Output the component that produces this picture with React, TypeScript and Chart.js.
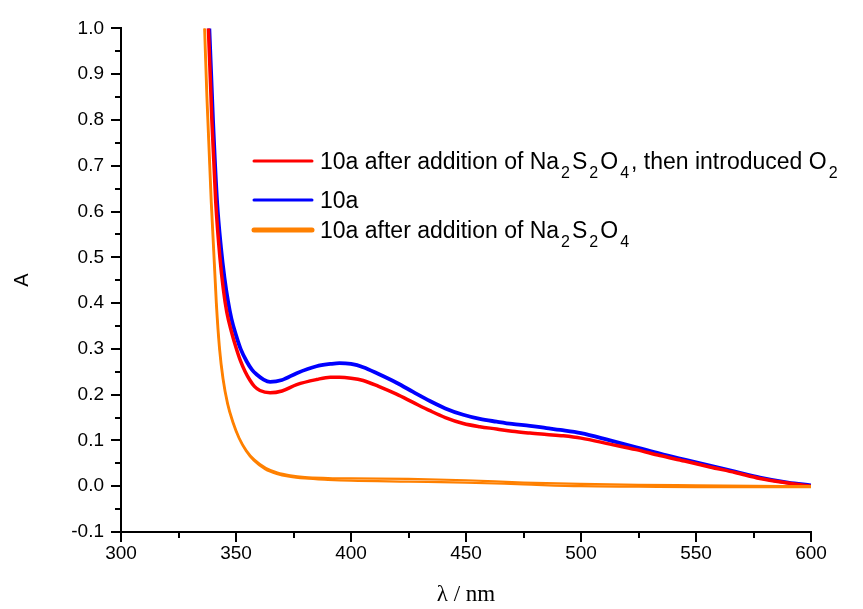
import React, { useEffect, useRef } from 'react';
import { Chart, registerables } from 'chart.js';

Chart.register(...registerables);

// ---- axis ranges / ticks ----
const X_MIN = 300;
const X_MAX = 600;
const X_MAJOR = 50;
const X_MINOR = 25;
const Y_MIN = -0.1;
const Y_MAX = 1.0;
const Y_MAJOR = 0.1;
const Y_MINOR = 0.05;

// ---- series: 10a after addition of Na2S2O4, then introduced O2 (red) ----
const redWavelengths = [336.8, 338, 339.5, 341.2, 343, 344.5, 346, 348, 350, 352, 354, 356, 358, 360.4, 364.8, 370, 376.4, 385, 391, 395, 400, 405.3, 412, 419.8, 427, 434.3, 441, 448.8, 456, 463.3, 470, 477.8, 485, 492.3, 500, 512.6, 524, 534.3, 545, 556, 567, 577.8, 590, 600];
const redValues = [1.1, 1.0, 0.80, 0.62, 0.50, 0.43, 0.38, 0.338, 0.303, 0.273, 0.250, 0.232, 0.218, 0.209, 0.204, 0.208, 0.222, 0.233, 0.238, 0.238, 0.236, 0.231, 0.218, 0.201, 0.183, 0.165, 0.150, 0.137, 0.130, 0.125, 0.120, 0.116, 0.113, 0.110, 0.105, 0.092, 0.080, 0.067, 0.055, 0.042, 0.030, 0.017, 0.007, 0.0];

// ---- series: 10a (blue) ----
const blueWavelengths = [337.3, 338.4, 340, 341.8, 343.5, 345, 346.5, 348, 350, 352, 354.6, 357, 359, 362, 364.8, 370, 376.4, 385, 391, 395, 400, 405.3, 412, 419.8, 427, 434.3, 441, 448.8, 456, 463.3, 470, 477.8, 485, 491, 500, 512.6, 524, 534.3, 545, 556, 567, 577.8, 590, 600];
const blueValues = [1.1, 1.0, 0.80, 0.62, 0.52, 0.455, 0.405, 0.366, 0.330, 0.300, 0.273, 0.254, 0.244, 0.233, 0.228, 0.232, 0.247, 0.262, 0.267, 0.269, 0.267, 0.260, 0.245, 0.226, 0.206, 0.186, 0.170, 0.156, 0.147, 0.141, 0.136, 0.132, 0.127, 0.123, 0.116, 0.100, 0.085, 0.071, 0.058, 0.045, 0.032, 0.019, 0.008, 0.002];

// ---- series: 10a after addition of Na2S2O4 (orange, two traces) ----
const orangeWavelengths = [335.8, 336.5, 337.5, 339.4, 341.6, 343, 344.5, 346.5, 348.8, 351.5, 354.6, 358, 363, 368, 373.5, 380, 390, 400, 425, 450, 475, 500, 525, 550, 575, 600];
const orangeValues = [1.1, 1.0, 0.85, 0.62, 0.40, 0.30, 0.235, 0.18, 0.14, 0.105, 0.078, 0.058, 0.040, 0.030, 0.024, 0.020, 0.018, 0.017, 0.016, 0.013, 0.008, 0.005, 0.003, 0.002, 0.001, 0.0];
const orange2Wavelengths = [335.5, 336.2, 337.2, 339.1, 341.3, 342.7, 344.2, 346.2, 348.5, 351.2, 354.3, 357.7, 362.7, 367.7, 373.2, 380, 390, 400, 425, 450, 475, 500, 525, 550, 575, 600];
const orange2Values = [1.1, 1.0, 0.85, 0.62, 0.40, 0.30, 0.235, 0.18, 0.14, 0.105, 0.077, 0.056, 0.037, 0.027, 0.021, 0.017, 0.014, 0.012, 0.010, 0.008, 0.004, 0.000, -0.001, -0.002, -0.002, -0.002];

// ---- legend ----
type Seg = { t: string; sub?: boolean };
const legendRows: { color: string; width: number; segs: Seg[] }[] = [
  {
    color: '#ff0000', width: 3,
    segs: [{ t: '10a after addition of Na' }, { t: '2', sub: true }, { t: 'S' }, { t: '2', sub: true }, { t: 'O' }, { t: '4', sub: true }, { t: ', then introduced O' }, { t: '2', sub: true }],
  },
  { color: '#0000ff', width: 3, segs: [{ t: '10a' }] },
  {
    color: '#ff8000', width: 5,
    segs: [{ t: '10a after addition of Na' }, { t: '2', sub: true }, { t: 'S' }, { t: '2', sub: true }, { t: 'O' }, { t: '4', sub: true }],
  },
];

const SANS = '"Liberation Sans", Arial, sans-serif';
const SERIF = '"Liberation Serif", "Times New Roman", serif';

const toPoints = (xs: number[], ys: number[]) => xs.map((x, i) => ({ x, y: ys[i] }));

const ticksPlugin = {
  id: 'originTicks',
  afterDraw(chart: any) {
    const { ctx, chartArea } = chart;
    const xs = chart.scales.x;
    const ys = chart.scales.y;
    ctx.save();
    ctx.strokeStyle = '#000';
    ctx.lineWidth = 2;
    const nx = Math.round((X_MAX - X_MIN) / X_MINOR);
    for (let i = 0; i <= nx; i++) {
      const v = X_MIN + i * X_MINOR;
      const px = Math.round(xs.getPixelForValue(v));
      const len = i % 2 === 0 ? 10 : 6;
      ctx.beginPath();
      ctx.moveTo(px, chartArea.bottom);
      ctx.lineTo(px, chartArea.bottom + len);
      ctx.stroke();
    }
    const ny = Math.round((Y_MAX - Y_MIN) / Y_MINOR);
    for (let i = 0; i <= ny; i++) {
      const v = Y_MIN + i * Y_MINOR;
      const py = Math.round(ys.getPixelForValue(v));
      const len = i % 2 === 0 ? 10 : 6;
      ctx.beginPath();
      ctx.moveTo(chartArea.left, py);
      ctx.lineTo(chartArea.left - len, py);
      ctx.stroke();
    }
    ctx.restore();
  },
};

const legendPlugin = {
  id: 'subLegend',
  afterDraw(chart: any) {
    const { ctx } = chart;
    const rowsY = [161, 200, 230];
    const lineX0 = 254;
    const lineX1 = 312;
    const textX = 320;
    ctx.save();
    legendRows.forEach((row, r) => {
      const y = rowsY[r];
      ctx.strokeStyle = row.color;
      ctx.lineWidth = row.width;
      ctx.lineCap = 'round';
      ctx.beginPath();
      ctx.moveTo(lineX0, y);
      ctx.lineTo(lineX1, y);
      ctx.stroke();
      let x = textX;
      ctx.fillStyle = '#000';
      ctx.textBaseline = 'alphabetic';
      ctx.textAlign = 'left';
      const base = y + 8;
      row.segs.forEach((s) => {
        if (s.sub) {
          ctx.font = `16px ${SANS}`;
          x += 2;
          ctx.fillText(s.t, x, base + 9);
          x += ctx.measureText(s.t).width + 2;
        } else {
          ctx.font = `23px ${SANS}`;
          ctx.fillText(s.t, x, base);
          x += ctx.measureText(s.t).width;
        }
      });
    });
    ctx.restore();
  },
};

export default function App() {
  const ref = useRef<HTMLCanvasElement>(null);
  useEffect(() => {
    if (!ref.current) return;
    const chart = new Chart(ref.current, {
      type: 'line',
      data: {
        datasets: [
          {
            label: '10a after addition of Na2S2O4 (trace 2)',
            data: toPoints(orange2Wavelengths, orange2Values),
            borderColor: '#ff8000',
            borderWidth: 2.2,
            cubicInterpolationMode: 'monotone',
          },
          {
            label: '10a after addition of Na2S2O4',
            data: toPoints(orangeWavelengths, orangeValues),
            borderColor: '#ff8000',
            borderWidth: 2.2,
            cubicInterpolationMode: 'monotone',
          },
          {
            label: '10a after addition of Na2S2O4, then introduced O2',
            data: toPoints(redWavelengths, redValues),
            borderColor: '#ff0000',
            borderWidth: 3.5,
            cubicInterpolationMode: 'monotone',
          },
          {
            label: '10a',
            data: toPoints(blueWavelengths, blueValues),
            borderColor: '#0000ff',
            borderWidth: 3.8,
            cubicInterpolationMode: 'monotone',
          },
        ],
      },
      options: {
        animation: false,
        responsive: true,
        maintainAspectRatio: false,
        layout: { padding: { top: 23, right: 52, left: 0, bottom: 0 } },
        elements: { point: { radius: 0 } },
        plugins: { legend: { display: false }, tooltip: { enabled: false } },
        scales: {
          x: {
            type: 'linear',
            min: X_MIN,
            max: X_MAX,
            ticks: { stepSize: X_MAJOR, padding: 10, color: '#000', font: { family: SANS, size: 19 } },
            grid: { drawOnChartArea: false, drawTicks: false },
            border: { color: '#000', width: 2 },
            title: { display: true, text: 'λ / nm', color: '#000', font: { family: SERIF, size: 23 }, padding: 0 },
            afterFit: (s: any) => { s.height = 77; },
          },
          y: {
            type: 'linear',
            min: Y_MIN,
            max: Y_MAX,
            ticks: {
              stepSize: Y_MAJOR,
              padding: 17,
              color: '#000',
              font: { family: SANS, size: 19 },
              callback: (v: any) => Number(v).toFixed(1),
            },
            grid: { drawOnChartArea: false, drawTicks: false },
            border: { color: '#000', width: 2 },
            title: { display: true, text: 'A', color: '#000', font: { family: SANS, size: 20 }, padding: { top: 10, bottom: 0 } },
            afterFit: (s: any) => { s.width = 121; },
          },
        },
      },
      plugins: [ticksPlugin, legendPlugin],
    });
    return () => chart.destroy();
  }, []);
  return (
    <div style={{ position: 'absolute', left: 0, top: 0, width: 863, height: 609 }}>
      <canvas ref={ref} />
    </div>
  );
}
